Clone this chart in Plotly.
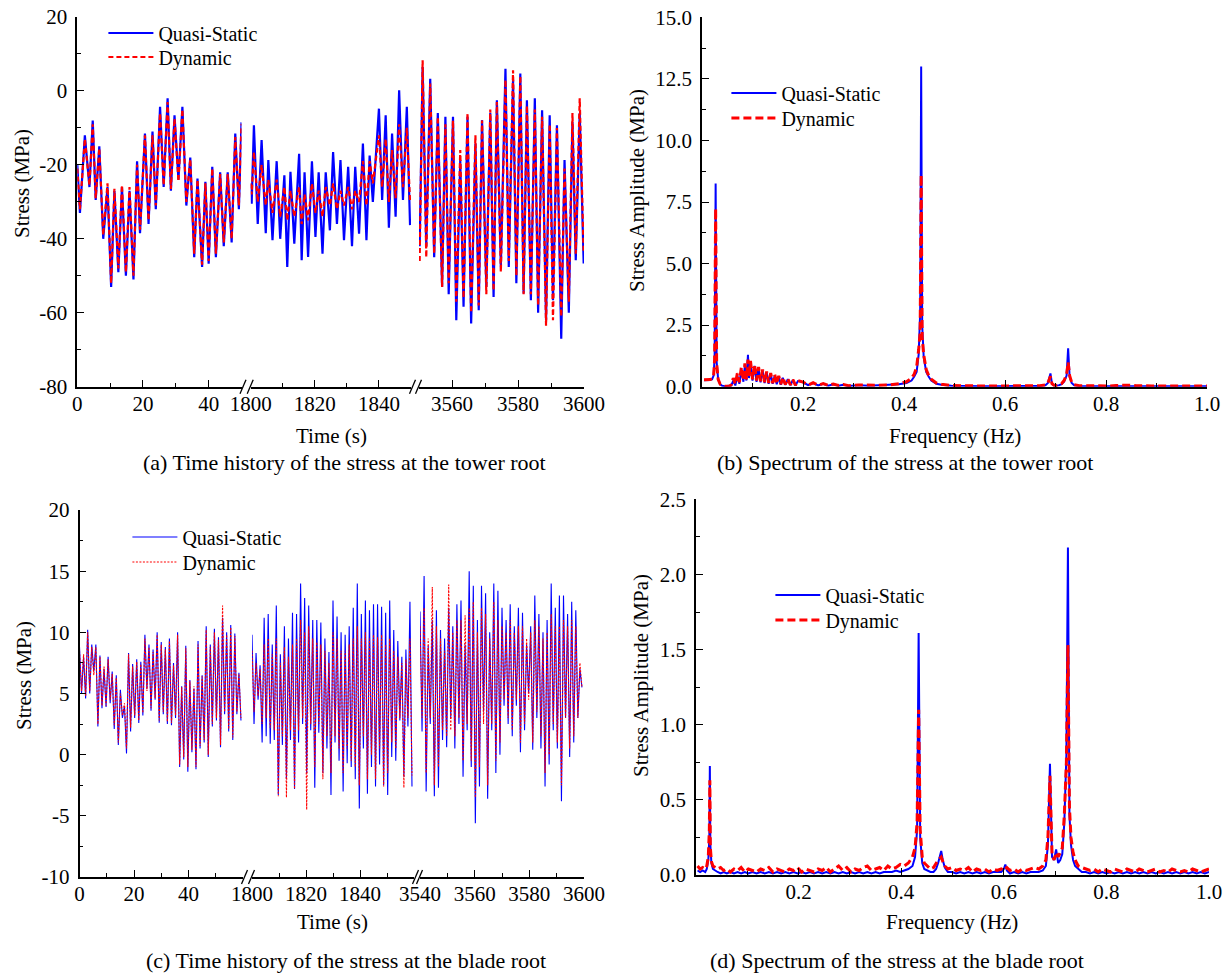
import numpy as np
import plotly.graph_objects as go

W, H = 1231, 979
FONT = "Liberation Serif"
BLUE = "#0000FF"
RED = "#FF0000"

# ---------------- (a) tower-root stress, three time windows ----------------
T_A1 = [0.0, 0.8, 2.3, 3.7, 4.7, 5.6, 6.7, 7.9, 9.2, 10.3,
        11.3, 12.5, 13.6, 14.8, 15.9, 17.1, 18.2, 19.1, 20.6, 21.7,
        22.9, 23.9, 25.2, 26.3, 27.5, 28.5, 29.6, 30.8, 32.0, 33.2,
        34.4, 35.6, 36.6, 38.0, 39.0, 40.0, 41.1, 42.2, 43.5, 44.6,
        45.8, 47.0, 48.1, 49.2, 50.0]
QS_A1 = [-20, -33, -12, -26, -8, -29.5, -15, -40, -26, -53,
         -27, -49, -26, -50, -27, -51, -19, -38.5, -11.5, -36,
         -11, -32, -4.3, -26, -2, -27, -6.6, -24, -4.3, -31,
         -18, -45, -23.7, -47.6, -24.6, -46.7, -20.5, -45, -22, -42,
         -22, -41, -11.5, -32, -8.5]
DY_A1 = [-21, -32, -13, -25.5, -9, -29, -15.5, -39, -25, -52,
         -26.5, -48, -25.5, -49, -26, -50, -20, -37.5, -12, -35,
         -12, -31, -6, -25.5, -3, -26.5, -7.5, -24.5, -5, -30,
         -18.5, -44, -24, -47, -25, -46, -21, -44, -22.5, -41,
         -22.5, -40, -12.5, -31, -9]

T_A2 = [1800.0, 1800.3, 1801.0, 1802.2, 1803.4, 1804.7, 1805.5, 1806.8, 1808.1, 1809.2,
        1810.5, 1811.4, 1812.4, 1813.6, 1815.1, 1815.9, 1816.8, 1817.9, 1819.1, 1820.2,
        1821.2, 1822.4, 1823.4, 1824.7, 1825.7, 1826.9, 1828.0, 1829.1, 1830.4, 1831.6,
        1832.6, 1833.8, 1835.0, 1836.1, 1837.1, 1838.1, 1840.0, 1841.0, 1842.1, 1843.1,
        1844.1, 1845.2, 1846.3, 1847.5, 1848.7, 1849.7]
QS_A2 = [-25, -30.5, -9.3, -36, -13.3, -38.5, -18.7, -40.4, -19, -40,
         -22.8, -47.6, -21.9, -41.3, -17, -45.8, -22, -44.9, -19, -39.5,
         -22, -44, -22, -37.7, -16.5, -36, -18.7, -40.4, -20.5, -42,
         -20.5, -38.6, -14.2, -40.4, -17.5, -30, -4.8, -29.5, -6.6, -37,
         -11.5, -34, 0.2, -29.5, -4.3, -36.3]
DY_A2 = [-25, -28, -16.5, -30, -20, -31, -24, -33, -24, -34,
         -26, -35, -27, -34, -26, -36, -28, -35, -25, -33,
         -27, -34, -26, -31, -25, -32, -27, -31, -26, -32,
         -27, -30, -19, -31, -19, -25, -12, -26, -13, -30,
         -16, -29, -9, -26, -10, -30]

T_A3 = [3550.2, 3551.1, 3552.2, 3553.4, 3554.6, 3555.7, 3557.0, 3558.0, 3559.0, 3560.3,
        3561.3, 3562.5, 3563.5, 3564.7, 3565.8, 3567.1, 3568.1, 3569.1, 3570.4, 3571.6,
        3572.6, 3573.6, 3574.8, 3576.2, 3577.2, 3578.5, 3579.5, 3580.7, 3581.7, 3582.7,
        3583.9, 3585.1, 3586.1, 3587.3, 3588.5, 3589.6, 3590.6, 3591.8, 3593.1, 3594.1,
        3595.4, 3596.5, 3597.5, 3598.7, 3599.9]
QS_A3 = [-42, 6.5, -42, 3.3, -45, -6, -53, -7, -55, -7,
         -62, -18.7, -58.4, -7, -62.9, -14.2, -59.3, -7.9, -53, -6,
         -55.7, -2.5, -47.6, 6, -47.6, 3, -52, 4.7, -54.8, -2.5,
         -56.6, -2, -60, -5.2, -62, -6.6, -56.6, -9.3, -67, -18.7,
         -60, -8.4, -45.8, -6, -46.7]
DY_A3 = [-46, 8.3, -45, 2, -44, -7, -53, -9, -52, -8,
         -57, -16, -56, -6, -60, -12, -58, -8, -55, -5,
         -54, -3, -49, 3, -46, 5.6, -50, 4, -55, -4,
         -55, -5, -58, -7, -63.5, -9, -62, -10, -61, -21,
         -57, -6, -44, -2, -44]

# ---------------- (c) blade-root stress, sampled every 0.75 s ----------------
DT_C = 0.75
T0_C = [0.0, 1800.0, 3540.0]
QS_C1 = [8.8, 5.0, 8.0, 4.6, 10.2, 5.0, 9.0, 6.8, 9.0, 2.3,
         8.1, 3.8, 7.0, 3.9, 8.0, 4.2, 6.8, 2.1, 6.5, 0.8,
         5.3, 3.0, 4.0, 0.1, 8.3, 1.9, 7.4, 3.0, 7.8, 2.6,
         7.6, 3.2, 9.8, 5.4, 9.0, 3.6, 8.6, 4.5, 10.0, 2.6,
         9.2, 3.3, 8.8, 2.5, 9.5, 2.4, 7.5, 3.0, 10.0, -1.0,
         5.6, -0.4, 8.9, -1.4, 6.1, 0.2, 5.4, -1.2, 9.3, 0.5,
         6.5, 1.0, 10.5, -0.2, 9.0, 2.3, 10.3, 2.8, 9.6, 0.6,
         11.2, 3.3, 10.0, 1.9, 10.6, 1.2, 9.9, 3.3, 6.7, 2.8]
DY_C1 = [8.5, 5.2, 8.2, 4.8, 10.0, 5.2, 8.8, 6.5, 8.8, 2.5,
         8.0, 4.0, 7.2, 4.0, 7.8, 4.5, 6.6, 2.4, 6.3, 1.0,
         5.0, 3.2, 4.2, 0.5, 8.2, 2.2, 7.2, 3.2, 7.6, 2.8,
         7.4, 3.4, 9.5, 5.2, 8.8, 3.8, 8.4, 4.6, 9.8, 2.8,
         9.0, 3.5, 8.6, 2.7, 9.3, 2.6, 7.3, 3.2, 9.8, -0.8,
         5.5, -0.2, 8.7, -1.0, 6.0, 0.4, 5.6, -1.0, 9.0, 0.7,
         6.4, 1.2, 10.2, 0.0, 8.8, 2.5, 10.0, 3.0, 9.4, 0.8,
         12.2, 3.5, 9.8, 2.1, 10.4, 1.4, 9.7, 3.5, 6.6, 3.0]
QS_C2 = [9.8, 2.5, 8.3, 4.5, 7.3, 1.0, 11.2, 1.5, 11.5, 0.9,
         9.0, 1.2, 12.2, -3.3, 8.2, 0.8, 10.5, -2.0, 9.5, 1.2,
         11.6, -2.8, 11.5, 1.0, 14.0, 2.5, 12.8, -1.5, 12.2, 2.0,
         11.0, -2.7, 11.0, 1.8, 10.8, -1.5, 9.5, 0.5, 8.4, -3.3,
         12.6, 1.0, 11.3, -0.5, 10.0, -3.0, 9.8, -0.7, 10.5, -1.0,
         12.0, -2.0, 14.0, -4.4, 11.5, 0.5, 12.6, -3.2, 11.8, -1.0,
         12.3, -2.6, 12.3, -0.8, 12.1, -2.5, 11.6, -3.3, 12.6, -0.2,
         10.2, -0.5, 9.3, 2.8, 8.0, -1.8, 8.6, 2.3, 12.5, -2.6]
DY_C2 = [8.5, 3.5, 7.5, 4.8, 7.0, 2.5, 9.0, 3.0, 9.5, 2.2,
         8.2, 2.0, 9.5, -3.4, 7.5, 1.5, 8.8, -3.5, 8.0, 2.0,
         9.0, -2.8, 9.5, 2.0, 11.0, 3.0, 10.0, -4.5, 10.5, 2.5,
         9.5, -1.0, 9.2, 2.5, 9.0, -2.0, 8.5, 1.5, 7.5, -1.5,
         10.0, 1.5, 9.5, 0.5, 8.5, -1.5, 8.5, 0.5, 9.0, -0.5,
         9.5, -1.0, 10.5, -2.5, 9.5, 1.5, 10.0, -2.0, 9.5, 0.0,
         9.8, -2.0, 9.6, 0.5, 9.8, -2.6, 9.0, -1.5, 9.5, 1.0,
         8.5, 0.5, 8.0, 3.0, 7.5, -2.7, 7.8, 3.0, 9.5, -1.7]
QS_C3 = [11.7, 1.9, 14.6, -3.0, 8.9, 2.5, 11.0, -3.4, 11.8, -2.7,
         10.2, 1.2, 9.5, 0.6, 12.0, 3.0, 10.5, 0.5, 12.3, 2.5,
         12.6, -1.8, 9.0, 2.0, 15.0, -1.0, 13.8, -5.6, 11.0, -2.6,
         13.8, 3.5, 13.2, -3.6, 10.0, 2.0, 14.0, -1.5, 13.4, 0.0,
         12.0, 4.0, 11.0, 2.5, 12.3, 1.5, 10.5, 4.0, 12.0, 0.2,
         11.6, 2.0, 9.0, 5.0, 10.5, 0.4, 13.0, 3.0, 11.5, 0.5,
         10.0, -2.6, 11.0, -0.8, 14.0, 2.0, 12.0, 0.5, 13.0, -3.8,
         13.0, 3.0, 11.5, -0.2, 12.5, 1.0, 11.8, 3.0, 7.0, 5.5]
DY_C3 = [10.5, 3.0, 12.0, -1.5, 9.5, 3.0, 13.7, -2.5, 10.5, -1.0,
         9.5, 2.0, 8.5, 1.5, 13.9, 2.0, 10.0, 1.5, 11.0, 3.0,
         11.0, -0.5, 11.4, 2.5, 12.0, -0.5, 12.5, -3.5, 10.0, -1.0,
         12.0, 2.5, 11.5, -2.5, 9.5, 2.5, 12.5, -0.5, 11.0, 1.0,
         10.5, 4.5, 10.0, 3.0, 11.0, 2.0, 10.0, 4.5, 10.5, 1.0,
         10.5, 2.5, 9.5, 4.5, 10.0, 1.0, 11.0, 3.5, 10.5, 1.5,
         9.5, -1.5, 10.0, 0.0, 11.5, 2.5, 10.5, 1.0, 10.5, -2.5,
         11.0, 3.0, 10.5, 0.5, 11.0, 1.5, 10.5, 3.0, 7.5, 5.5]

# ---------------- (b) spectrum, tower root ----------------
FREQ_B = [0.004, 0.010, 0.016, 0.020, 0.023, 0.025, 0.027, 0.029, 0.032, 0.036,
          0.040, 0.045, 0.050, 0.055, 0.058, 0.062, 0.066, 0.070, 0.074, 0.078,
          0.082, 0.085, 0.088, 0.091, 0.093, 0.096, 0.100, 0.104, 0.108, 0.112,
          0.116, 0.120, 0.124, 0.128, 0.132, 0.136, 0.140, 0.144, 0.148, 0.152,
          0.156, 0.160, 0.165, 0.170, 0.175, 0.180, 0.185, 0.190, 0.200, 0.210,
          0.220, 0.230, 0.240, 0.250, 0.260, 0.270, 0.280, 0.290, 0.310, 0.330,
          0.350, 0.370, 0.390, 0.405, 0.415, 0.420, 0.425, 0.429, 0.432, 0.434,
          0.436, 0.439, 0.444, 0.449, 0.454, 0.464, 0.474, 0.494, 0.524, 0.554,
          0.584, 0.614, 0.644, 0.669, 0.680, 0.685, 0.690, 0.693, 0.697, 0.702,
          0.707, 0.712, 0.717, 0.722, 0.725, 0.728, 0.732, 0.737, 0.747, 0.767,
          0.787, 0.807, 0.820, 0.830, 0.840, 0.850, 0.860, 0.870, 0.890, 0.920,
          0.950, 0.980, 1.000]
QS_B = [0.26, 0.25, 0.27, 0.30, 0.45, 1.20, 8.25, 1.00, 0.30, 0.10,
        0.04, 0.02, 0.02, 0.03, 0.05, 0.25, 0.05, 0.45, 0.12, 0.70,
        0.20, 0.90, 0.25, 1.30, 0.35, 1.00, 0.25, 0.85, 0.20, 0.75,
        0.18, 0.65, 0.15, 0.58, 0.12, 0.52, 0.12, 0.46, 0.10, 0.40,
        0.08, 0.36, 0.07, 0.31, 0.06, 0.27, 0.05, 0.23, 0.18, 0.06,
        0.15, 0.05, 0.12, 0.04, 0.10, 0.04, 0.08, 0.03, 0.06, 0.04,
        0.05, 0.06, 0.10, 0.15, 0.25, 0.40, 0.60, 1.30, 3.00, 13.00,
        2.50, 1.20, 0.60, 0.40, 0.25, 0.12, 0.08, 0.04, 0.02, 0.02,
        0.02, 0.02, 0.02, 0.03, 0.06, 0.15, 0.54, 0.12, 0.05, 0.04,
        0.06, 0.10, 0.20, 0.45, 1.56, 0.40, 0.15, 0.06, 0.03, 0.02,
        0.02, 0.02, 0.03, 0.04, 0.03, 0.05, 0.03, 0.02, 0.02, 0.02,
        0.02, 0.02, 0.02]
DY_B = [0.28, 0.27, 0.29, 0.32, 0.45, 1.10, 7.24, 0.95, 0.30, 0.10,
        0.05, 0.02, 0.02, 0.03, 0.08, 0.35, 0.10, 0.55, 0.18, 0.80,
        0.25, 0.95, 0.30, 1.10, 0.40, 1.05, 0.30, 0.90, 0.25, 0.80,
        0.22, 0.70, 0.18, 0.62, 0.15, 0.55, 0.14, 0.50, 0.12, 0.44,
        0.10, 0.38, 0.09, 0.33, 0.07, 0.29, 0.06, 0.25, 0.19, 0.07,
        0.16, 0.06, 0.13, 0.05, 0.11, 0.05, 0.09, 0.04, 0.07, 0.05,
        0.06, 0.07, 0.12, 0.20, 0.35, 0.50, 0.80, 1.50, 2.20, 8.60,
        2.00, 1.30, 0.70, 0.45, 0.30, 0.15, 0.10, 0.05, 0.03, 0.03,
        0.03, 0.03, 0.03, 0.04, 0.07, 0.15, 0.42, 0.12, 0.06, 0.05,
        0.08, 0.12, 0.25, 0.50, 1.00, 0.45, 0.18, 0.08, 0.04, 0.03,
        0.03, 0.03, 0.05, 0.06, 0.05, 0.06, 0.04, 0.03, 0.03, 0.03,
        0.03, 0.03, 0.03]

# ---------------- (d) spectrum, blade root ----------------
FREQ_D = [0.003, 0.008, 0.013, 0.018, 0.021, 0.024, 0.026, 0.027, 0.028, 0.030,
          0.033, 0.037, 0.042, 0.048, 0.054, 0.060, 0.067, 0.074, 0.081, 0.088,
          0.095, 0.102, 0.110, 0.118, 0.126, 0.134, 0.142, 0.150, 0.158, 0.166,
          0.174, 0.182, 0.190, 0.198, 0.206, 0.214, 0.222, 0.230, 0.238, 0.246,
          0.254, 0.262, 0.270, 0.278, 0.286, 0.294, 0.302, 0.310, 0.318, 0.326,
          0.334, 0.342, 0.350, 0.358, 0.366, 0.374, 0.382, 0.390, 0.398, 0.406,
          0.414, 0.422, 0.427, 0.431, 0.434, 0.437, 0.441, 0.445, 0.451, 0.457,
          0.463, 0.468, 0.472, 0.475, 0.478, 0.481, 0.485, 0.491, 0.499, 0.507,
          0.515, 0.523, 0.531, 0.539, 0.547, 0.555, 0.563, 0.571, 0.579, 0.587,
          0.595, 0.600, 0.603, 0.606, 0.612, 0.620, 0.628, 0.636, 0.644, 0.652,
          0.660, 0.668, 0.676, 0.682, 0.686, 0.690, 0.694, 0.698, 0.702, 0.706,
          0.710, 0.714, 0.718, 0.722, 0.725, 0.728, 0.731, 0.735, 0.739, 0.745,
          0.752, 0.760, 0.768, 0.776, 0.784, 0.792, 0.800, 0.808, 0.816, 0.824,
          0.832, 0.840, 0.848, 0.856, 0.864, 0.872, 0.880, 0.888, 0.896, 0.904,
          0.912, 0.920, 0.928, 0.936, 0.944, 0.952, 0.960, 0.968, 0.976, 0.984,
          0.992, 1.000]
QS_D = [0.03, 0.02, 0.03, 0.02, 0.04, 0.10, 0.25, 0.725, 0.20, 0.08,
        0.04, 0.03, 0.02, 0.01, 0.02, 0.01, 0.02, 0.01, 0.02, 0.01,
        0.02, 0.01, 0.02, 0.01, 0.02, 0.01, 0.02, 0.01, 0.02, 0.01,
        0.02, 0.01, 0.02, 0.01, 0.02, 0.01, 0.02, 0.01, 0.02, 0.01,
        0.02, 0.01, 0.02, 0.01, 0.02, 0.01, 0.02, 0.01, 0.02, 0.01,
        0.02, 0.01, 0.02, 0.01, 0.02, 0.02, 0.02, 0.03, 0.02, 0.03,
        0.04, 0.06, 0.12, 0.30, 1.61, 0.25, 0.08, 0.04, 0.03, 0.02,
        0.02, 0.04, 0.08, 0.12, 0.16, 0.10, 0.05, 0.02, 0.02, 0.01,
        0.02, 0.01, 0.02, 0.01, 0.02, 0.01, 0.02, 0.01, 0.02, 0.02,
        0.02, 0.04, 0.07, 0.03, 0.01, 0.02, 0.01, 0.02, 0.01, 0.02,
        0.02, 0.02, 0.03, 0.06, 0.20, 0.74, 0.12, 0.10, 0.17, 0.08,
        0.10, 0.14, 0.35, 0.80, 2.18, 0.40, 0.20, 0.10, 0.06, 0.04,
        0.02, 0.02, 0.01, 0.02, 0.01, 0.02, 0.01, 0.02, 0.01, 0.02,
        0.01, 0.02, 0.01, 0.02, 0.01, 0.02, 0.01, 0.02, 0.01, 0.02,
        0.01, 0.02, 0.01, 0.02, 0.01, 0.02, 0.01, 0.02, 0.01, 0.02,
        0.01, 0.02]
DY_D = [0.06, 0.04, 0.05, 0.04, 0.06, 0.12, 0.30, 0.63, 0.18, 0.09,
        0.06, 0.05, 0.04, 0.05, 0.03, 0.04, 0.02, 0.04, 0.03, 0.05,
        0.02, 0.04, 0.03, 0.02, 0.04, 0.03, 0.05, 0.02, 0.04, 0.03,
        0.02, 0.04, 0.03, 0.05, 0.02, 0.04, 0.03, 0.02, 0.04, 0.03,
        0.05, 0.02, 0.04, 0.06, 0.03, 0.05, 0.02, 0.04, 0.03, 0.05,
        0.06, 0.03, 0.04, 0.05, 0.03, 0.06, 0.04, 0.05, 0.07, 0.06,
        0.08, 0.12, 0.18, 0.35, 1.10, 0.30, 0.12, 0.08, 0.06, 0.04,
        0.05, 0.08, 0.10, 0.11, 0.12, 0.09, 0.06, 0.04, 0.05, 0.03,
        0.04, 0.03, 0.05, 0.02, 0.04, 0.03, 0.04, 0.02, 0.04, 0.03,
        0.04, 0.03, 0.04, 0.05, 0.03, 0.04, 0.02, 0.04, 0.03, 0.04,
        0.05, 0.04, 0.06, 0.10, 0.25, 0.66, 0.14, 0.10, 0.15, 0.12,
        0.15, 0.18, 0.40, 0.75, 1.53, 0.45, 0.25, 0.15, 0.10, 0.06,
        0.05, 0.04, 0.03, 0.04, 0.02, 0.04, 0.03, 0.02, 0.04, 0.03,
        0.02, 0.04, 0.03, 0.02, 0.04, 0.03, 0.02, 0.03, 0.04, 0.02,
        0.03, 0.02, 0.04, 0.03, 0.02, 0.03, 0.02, 0.04, 0.03, 0.02,
        0.03, 0.04]


def px(x):
    return x / W


def py(y):
    return 1 - y / H


TICKFONT = dict(family=FONT, size=21, color="black")


def axis_style(**kw):
    base = dict(showline=True, linecolor="black", linewidth=1.5, ticks="inside",
                ticklen=7, tickwidth=1.3, tickcolor="black", showgrid=False,
                zeroline=False, tickfont=TICKFONT, fixedrange=True, automargin=False)
    base.update(kw)
    return base


def xaxis_style(**kw):
    return axis_style(ticklabelstandoff=-3, **kw)


def yaxis_style(**kw):
    return axis_style(ticklabelstandoff=4, **kw)


def minor(vals):
    return dict(ticks="inside", ticklen=4, tickwidth=1.3, tickcolor="black",
                showgrid=False, tickmode="array", tickvals=vals)


def labels(vals, fmt="{:g}"):
    return dict(tickmode="array", tickvals=vals, ticktext=[fmt.format(v) for v in vals])


# styles of the two series in each panel
STYLE = {
    "a": (dict(color=BLUE, width=2.2), dict(color=RED, width=2.2, dash="5px,3px")),
    "b": (dict(color=BLUE, width=2.0), dict(color=RED, width=3.0, dash="8px,4px")),
    "c": (dict(color=BLUE, width=1.1), dict(color=RED, width=1.1, dash="2px,1.5px")),
    "d": (dict(color=BLUE, width=2.0), dict(color=RED, width=3.0, dash="8px,4px")),
}
# one legend per entry: panel -> (quasi-static legend, dynamic legend)
LEG = {"a": ("legend", "legend2"), "b": ("legend3", "legend4"),
       "c": ("legend5", "legend6"), "d": ("legend7", "legend8")}

fig = go.Figure()


def add_pair(panel, t, qs, dy, xa, ya, first=True):
    sq, sd = STYLE[panel]
    lq, ld = LEG[panel]
    fig.add_trace(go.Scatter(x=t, y=qs, mode="lines", name="Quasi-Static", xaxis=xa, yaxis=ya,
                             line=sq, legend=lq, showlegend=first))
    fig.add_trace(go.Scatter(x=t, y=dy, mode="lines", name="Dynamic", xaxis=xa, yaxis=ya,
                             line=sd, legend=ld, showlegend=first))


add_pair("a", T_A1, QS_A1, DY_A1, "x", "y")
add_pair("a", T_A2, QS_A2, DY_A2, "x2", "y", False)
add_pair("a", T_A3, QS_A3, DY_A3, "x3", "y", False)
add_pair("b", FREQ_B, QS_B, DY_B, "x4", "y2")
for i, (t0, qs, dy, xa) in enumerate([(T0_C[0], QS_C1, DY_C1, "x5"),
                                      (T0_C[1], QS_C2, DY_C2, "x6"),
                                      (T0_C[2], QS_C3, DY_C3, "x7")]):
    add_pair("c", t0 + DT_C * np.arange(len(qs)), qs, dy, xa, "y3", i == 0)
add_pair("d", FREQ_D, QS_D, DY_D, "x8", "y4")

# ---- axes (pixel geometry) ----
A_Y0, A_Y1 = 386.7, 17.0
C_Y0, C_Y1 = 877.0, 510.0
A_SEGS = [(77.3, 241.5), (250.7, 411.0), (419.0, 584.0)]
C_SEGS = [(79.5, 243.0), (252.0, 414.0), (420.0, 584.0)]

layout = dict(
    width=W, height=H, template="none",
    margin=dict(l=0, r=0, t=0, b=0, pad=0, autoexpand=False),
    paper_bgcolor="white", plot_bgcolor="white",
    font=dict(family=FONT, color="black", size=21),
    xaxis=xaxis_style(domain=[px(A_SEGS[0][0]), px(A_SEGS[0][1])], range=[0, 50], anchor="y",
                      **labels([0, 20, 40]), minor=minor([10, 30])),
    xaxis2=xaxis_style(domain=[px(A_SEGS[1][0]), px(A_SEGS[1][1])], range=[1800, 1850],
                       anchor="y", **labels([1800, 1820, 1840]), minor=minor([1810, 1830])),
    xaxis3=xaxis_style(domain=[px(A_SEGS[2][0]), px(A_SEGS[2][1])], range=[3550, 3600],
                       anchor="y", **labels([3560, 3580, 3600]), minor=minor([3570, 3590])),
    yaxis=yaxis_style(domain=[py(A_Y0), py(A_Y1)], range=[-80, 20], anchor="x",
                      **labels([-80, -60, -40, -20, 0, 20]),
                      minor=minor([-70, -50, -30, -10, 10])),
    xaxis4=xaxis_style(domain=[px(702), px(1207)], range=[0, 1.0], anchor="y2",
                       **labels([0.2, 0.4, 0.6, 0.8, 1.0], "{:.1f}"),
                       minor=minor([0.1, 0.3, 0.5, 0.7, 0.9])),
    yaxis2=yaxis_style(domain=[py(386.7), py(17.3)], range=[0, 15], anchor="x4",
                       **labels([0, 2.5, 5, 7.5, 10, 12.5, 15], "{:.1f}"),
                       minor=minor([1.25, 3.75, 6.25, 8.75, 11.25, 13.75])),
    xaxis5=xaxis_style(domain=[px(C_SEGS[0][0]), px(C_SEGS[0][1])], range=[0, 60], anchor="y3",
                       **labels([0, 20, 40]), minor=minor([10, 30, 50])),
    xaxis6=xaxis_style(domain=[px(C_SEGS[1][0]), px(C_SEGS[1][1])], range=[1800, 1860],
                       anchor="y3", **labels([1800, 1820, 1840]),
                       minor=minor([1810, 1830, 1850])),
    xaxis7=xaxis_style(domain=[px(C_SEGS[2][0]), px(C_SEGS[2][1])], range=[3540, 3600],
                       anchor="y3", **labels([3540, 3560, 3580, 3600]),
                       minor=minor([3550, 3570, 3590])),
    yaxis3=yaxis_style(domain=[py(C_Y0), py(C_Y1)], range=[-10, 20], anchor="x5",
                       **labels([-10, -5, 0, 5, 10, 15, 20]),
                       minor=minor([-7.5, -2.5, 2.5, 7.5, 12.5, 17.5])),
    xaxis8=xaxis_style(domain=[px(696), px(1209)], range=[0, 1.0], anchor="y4",
                       **labels([0.2, 0.4, 0.6, 0.8, 1.0], "{:.1f}"),
                       minor=minor([0.1, 0.3, 0.5, 0.7, 0.9])),
    yaxis4=yaxis_style(domain=[py(875), py(499.3)], range=[0, 2.5], anchor="x8",
                       **labels([0, 0.5, 1.0, 1.5, 2.0, 2.5], "{:.1f}"),
                       minor=minor([0.25, 0.75, 1.25, 1.75, 2.25])),
)


def legend_at(x_line, y_row):
    # x_line: left end of the sample line, y_row: vertical centre of the entry (pixels)
    return dict(x=px(x_line - 6.6), y=py(y_row - 19.5), xanchor="left", yanchor="top",
                bgcolor="rgba(0,0,0,0)", borderwidth=0,
                font=dict(family=FONT, size=20, color="black"),
                itemwidth=45, tracegroupgap=0, itemclick=False, itemdoubleclick=False)


for panel, (xl, y1, y2) in {"a": (110, 33, 57), "b": (733, 93, 118),
                            "c": (134, 537, 562), "d": (777, 595, 620)}.items():
    lq, ld = LEG[panel]
    layout[lq] = legend_at(xl, y1)
    layout[ld] = legend_at(xl, y2)

fig.update_layout(**layout)

# ---- broken-axis marks ----
shapes = []
for segs, ybase in [(A_SEGS, A_Y0), (C_SEGS, C_Y0)]:
    for (l0, r0), (l1, r1) in zip(segs[:-1], segs[1:]):
        for xc in (r0 + 1.5, l1 - 0.5):
            shapes.append(dict(type="line", xref="paper", yref="paper",
                               x0=px(xc - 3), y0=py(ybase + 7), x1=px(xc + 3), y1=py(ybase - 7),
                               line=dict(color="black", width=1.3)))
fig.update_layout(shapes=shapes)

# ---- titles and captions ----
ann = []


def text(s, x, y, size=21, angle=0):
    ann.append(dict(text=s, x=px(x), y=py(y), xref="paper", yref="paper", showarrow=False,
                    xanchor="center", yanchor="middle", textangle=angle,
                    font=dict(family=FONT, size=size, color="black")))


text("Stress (MPa)", 22, 184, angle=-90)
text("Stress Amplitude (MPa)", 637, 191, angle=-90)
text("Stress (MPa)", 24, 676, angle=-90)
text("Stress Amplitude (MPa)", 641, 676, angle=-90)
text("Time (s)", 331, 436)
text("Frequency (Hz)", 955, 436)
text("Time (s)", 332, 922)
text("Frequency (Hz)", 952, 922)
text("(a) Time history of the stress at the tower root", 345, 463, size=22)
text("(b) Spectrum of the stress at the tower root", 905, 463, size=22)
text("(c) Time history of the stress at the blade root", 346, 960, size=22)
text("(d) Spectrum of the stress at the blade root", 897, 960, size=22)
fig.update_layout(annotations=ann)

fig.write_html("out.html")
